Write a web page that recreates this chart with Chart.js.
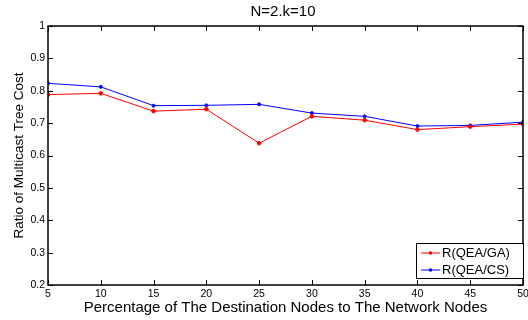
<!DOCTYPE html>
<html>
<head>
<meta charset="utf-8">
<script src="https://cdn.jsdelivr.net/npm/chart.js@4.4.0/dist/chart.umd.min.js"></script>
<style>
  html, body { margin: 0; padding: 0; background: #fff; }
  #wrap { width: 528px; height: 320px; }
</style>
</head>
<body>
<div id="wrap"><canvas id="chart" width="528" height="320"></canvas></div>
<script>
// values
const percentages = [5, 10, 15, 20, 25, 30, 35, 40, 45, 50];
const qeaGA = [0.788, 0.792, 0.737, 0.743, 0.638, 0.721, 0.709, 0.680, 0.689, 0.697];
const qeaCS = [0.823, 0.812, 0.754, 0.755, 0.758, 0.731, 0.721, 0.691, 0.693, 0.703];
const xTicks = [5, 10, 15, 20, 25, 30, 35, 40, 45, 50];
const yTicks = [0.2, 0.3, 0.4, 0.5, 0.6, 0.7, 0.8, 0.9, 1];
const chartTitle = 'N=2.k=10';

const FONT = "'Liberation Sans', Arial, Helvetica, sans-serif";

// MATLAB-style box with inward ticks, title and a boxed legend
const matlabBox = {
    id: 'matlabBox',
    afterDatasetsDraw(chart) {
        const { ctx, chartArea: a, scales } = chart;
        ctx.save();
        ctx.strokeStyle = '#000';
        ctx.lineWidth = 1;
        ctx.beginPath();
        xTicks.forEach(v => {
            const x = Math.round(scales.x.getPixelForValue(v)) + 0.5;
            ctx.moveTo(x, a.bottom); ctx.lineTo(x, a.bottom - 5);
            ctx.moveTo(x, a.top); ctx.lineTo(x, a.top + 5);
        });
        yTicks.forEach(v => {
            const y = Math.round(scales.y.getPixelForValue(v)) + 0.5;
            ctx.moveTo(a.left, y); ctx.lineTo(a.left + 5, y);
            ctx.moveTo(a.right, y); ctx.lineTo(a.right - 5, y);
        });
        ctx.stroke();
        ctx.lineWidth = 1.5;
        ctx.strokeRect(a.left, a.top, a.right - a.left, a.bottom - a.top);

        // title
        ctx.fillStyle = '#000';
        ctx.font = '15px ' + FONT;
        ctx.textAlign = 'center';
        ctx.textBaseline = 'middle';
        ctx.fillText(chartTitle, 283, 12);

        // legend
        const w = 107, h = 35;
        const lx = a.right - w, ly = a.bottom - h - 7;
        ctx.fillStyle = '#fff';
        ctx.fillRect(lx, ly, w, h);
        ctx.lineWidth = 1;
        ctx.strokeRect(lx + 0.5, ly + 0.5, w, h);
        ctx.font = '13px ' + FONT;
        ctx.textAlign = 'left';
        chart.data.datasets.forEach((ds, i) => {
            const y = ly + 10 + i * 17;
            ctx.strokeStyle = ds.borderColor;
            ctx.lineWidth = 1;
            ctx.beginPath();
            ctx.moveTo(lx + 5, y); ctx.lineTo(lx + 24, y);
            ctx.stroke();
            ctx.fillStyle = ds.borderColor;
            ctx.beginPath();
            ctx.arc(lx + 14.5, y, 1.8, 0, Math.PI * 2);
            ctx.fill();
            ctx.fillStyle = '#000';
            ctx.fillText(ds.label, lx + 26, y + 0.5);
        });
        ctx.restore();
    }
};

new Chart(document.getElementById('chart'), {
    type: 'line',
    data: {
        datasets: [
            {
                label: 'R(QEA/GA)',
                data: percentages.map((p, i) => ({ x: p, y: qeaGA[i] })),
                borderColor: '#ff0000',
                backgroundColor: '#ff0000',
                borderWidth: 1,
                pointRadius: 1.8,
                pointStyle: 'circle',
                tension: 0
            },
            {
                label: 'R(QEA/CS)',
                data: percentages.map((p, i) => ({ x: p, y: qeaCS[i] })),
                borderColor: '#0000ff',
                backgroundColor: '#0000ff',
                borderWidth: 1,
                pointRadius: 1.5,
                pointStyle: 'circle',
                tension: 0
            }
        ]
    },
    options: {
        responsive: false,
        animation: false,
        layout: { padding: { left: 0, right: 4, top: 26, bottom: 0 } },
        plugins: {
            legend: { display: false },
            tooltip: { enabled: false },
            title: { display: false }
        },
        scales: {
            x: {
                type: 'linear',
                min: 5, max: 50,
                afterBuildTicks: s => { s.ticks = xTicks.map(v => ({ value: v })); },
                afterFit: s => { s.height = 35; s.paddingLeft = 0; s.paddingRight = 0; },
                grid: { display: false, drawTicks: false, tickLength: 0 },
                border: { display: false },
                ticks: {
                    color: '#000',
                    padding: 3,
                    font: { family: FONT, size: 10.5 },
                    maxRotation: 0
                },
                title: {
                    display: true,
                    text: 'Percentage of The Destination Nodes to The Network Nodes',
                    color: '#000',
                    font: { family: FONT, size: 15 },
                    padding: { top: 0, bottom: 3 }
                }
            },
            y: {
                min: 0.2, max: 1,
                afterBuildTicks: s => { s.ticks = yTicks.map(v => ({ value: v })); },
                afterFit: s => { s.width = 48; s.paddingTop = 0; s.paddingBottom = 0; },
                grid: { display: false, drawTicks: false, tickLength: 0 },
                border: { display: false },
                ticks: {
                    color: '#000',
                    padding: 3,
                    font: { family: FONT, size: 10.5 },
                    callback: v => (v === 1 ? '1' : v.toFixed(1))
                },
                title: {
                    display: true,
                    text: 'Ratio of Multicast Tree Cost',
                    color: '#000',
                    font: { family: FONT, size: 13.5 },
                    padding: { top: 11, bottom: 0 }
                }
            }
        }
    },
    plugins: [matlabBox]
});
</script>
</body>
</html>
